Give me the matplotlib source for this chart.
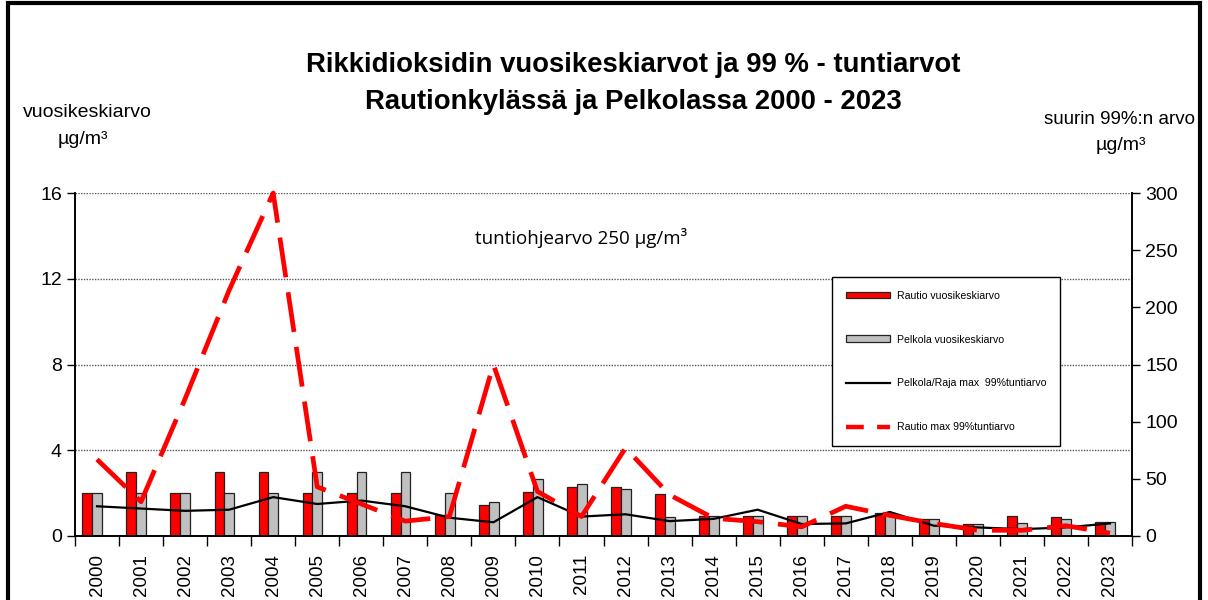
import matplotlib
matplotlib.use("Agg")
import matplotlib.pyplot as plt
import numpy as np
from matplotlib.lines import Line2D
from matplotlib.patches import Patch, Rectangle

plt.rcParams["font.family"] = ["Liberation Sans", "DejaVu Sans"]

years = [str(y) for y in range(2000, 2024)]
# annual means, ug/m3 (left axis)
rautio_mean = [2, 3, 2, 3, 3, 2, 2, 2, 1, 1.45, 2.07, 2.28, 2.28, 1.96,
               0.95, 0.93, 0.95, 0.95, 1.06, 0.78, 0.55, 0.95, 0.89, 0.67]
pelkola_mean = [2, 2, 2, 2, 2, 3, 3, 3, 2, 1.57, 2.67, 2.41, 2.18, 0.9,
                0.95, 0.93, 0.95, 0.95, 1.06, 0.78, 0.55, 0.62, 0.79, 0.67]
# max 99 % hourly values, ug/m3 (right axis)
pelkola_max99 = [26, 24, 22, 23, 34, 28, 31, 26, 16, 12, 34, 17, 19, 13,
                 15, 23, 10.5, 11, 21, 9, 7.5, 6, 7.5, 11]
rautio_max99 = [67, 30, 120, 215, 300, 43, 28, 13, 17, 150, 39, 17, 77, 36,
                15.5, 12.5, 8, 26, 18, 11, 5, 5, 9, 2.5]

x = np.arange(len(years))

fig = plt.figure(figsize=(12.08, 6.0), dpi=100)
fig.patch.set_facecolor("white")
ax = fig.add_axes([75 / 1208, 64 / 600, 1057 / 1208, 343 / 600])
ax2 = ax.twinx()

w = 0.225
ax.bar(x - 0.22, rautio_mean, w, color="#ff0000", edgecolor="#222222",
       linewidth=0.9, zorder=2)
ax.bar(x + 0.005, pelkola_mean, w, color="#c0c0c0", edgecolor="#222222",
       linewidth=0.9, zorder=2)
ax2.plot(x, pelkola_max99, color="black", linewidth=1.6, zorder=3)
ax2.plot(x, rautio_max99, color="#ff0000", linewidth=3.4,
         dashes=(8.5, 3.2), zorder=4, clip_on=False)

ax.set_xlim(-0.5, len(years) - 0.5)
ax.set_ylim(0, 16)
ax2.set_ylim(0, 300)
ax.set_yticks([0, 4, 8, 12, 16])
ax2.set_yticks(range(0, 301, 50))
ax.yaxis.grid(True, linestyle=(0, (1, 1)), color="#555555", linewidth=1.0)
ax.set_axisbelow(True)

ax.set_xticks(x)
ax.set_xticklabels(years, rotation=90, fontsize=13.5)
ax.set_xticks(np.arange(-0.5, len(years)), minor=True)
ax.tick_params(axis="x", which="major", length=0, pad=13)
ax.tick_params(axis="x", which="minor", length=7, width=1, direction="out")
ax.tick_params(axis="y", labelsize=14, length=6, width=1)
ax2.tick_params(axis="y", labelsize=14, length=6, width=1)

for a in (ax, ax2):
    a.spines["top"].set_visible(False)
    for s in ("left", "right", "bottom"):
        a.spines[s].set_color("black")
        a.spines[s].set_linewidth(1.2)

ax.text(0.378, 0.87, "tuntiohjearvo 250 \u00b5g/m\u00b3", transform=ax.transAxes,
        fontsize=13.5, family=["Open Sans", "DejaVu Sans"], ha="left",
        va="center")

handles = [Patch(facecolor="#ff0000", edgecolor="#222222", linewidth=0.9),
           Patch(facecolor="#c0c0c0", edgecolor="#222222", linewidth=0.9),
           Line2D([], [], color="black", linewidth=1.6),
           Line2D([], [], color="#ff0000", linewidth=3.2, dashes=(4, 3))]
labels = ["Rautio vuosikeskiarvo", "Pelkola vuosikeskiarvo",
          "Pelkola/Raja max  99%tuntiarvo", "Rautio max 99%tuntiarvo"]
leg = ax2.legend(handles, labels, loc="upper left",
                 bbox_to_anchor=(0.716, 0.755), borderaxespad=0,
                 frameon=True, fancybox=False, edgecolor="black",
                 framealpha=1, labelspacing=3.2, handlelength=4.2,
                 handleheight=0.6, handletextpad=0.7, borderpad=1.3,
                 prop={"size": 7.6})
leg.get_frame().set_linewidth(1.0)
leg.set_zorder(10)

fig.text(0.524, 0.892, "Rikkidioksidin vuosikeskiarvot ja 99 % - tuntiarvot",
         ha="center", va="center", fontsize=19.8, weight="bold")
fig.text(0.524, 0.830, "Rautionkyl\u00e4ss\u00e4 ja Pelkolassa 2000 - 2023",
         ha="center", va="center", fontsize=19.8, weight="bold")
fig.text(0.072, 0.812, "vuosikeskiarvo", ha="center", va="center",
         fontsize=14)
fig.text(0.069, 0.767, "\u00b5g/m\u00b3", ha="center", va="center",
         fontsize=14)
fig.text(0.927, 0.800, "suurin 99%:n arvo", ha="center", va="center",
         fontsize=13.5)
fig.text(0.928, 0.757, "\u00b5g/m\u00b3", ha="center", va="center",
         fontsize=14)

# outer frame of the picture
fig.add_artist(Rectangle((8 / 1208, -0.05), 1192 / 1208, 1.045,
                         transform=fig.transFigure, fill=False,
                         edgecolor="black", linewidth=3))

fig.savefig("out.png", dpi=100, facecolor="white")
